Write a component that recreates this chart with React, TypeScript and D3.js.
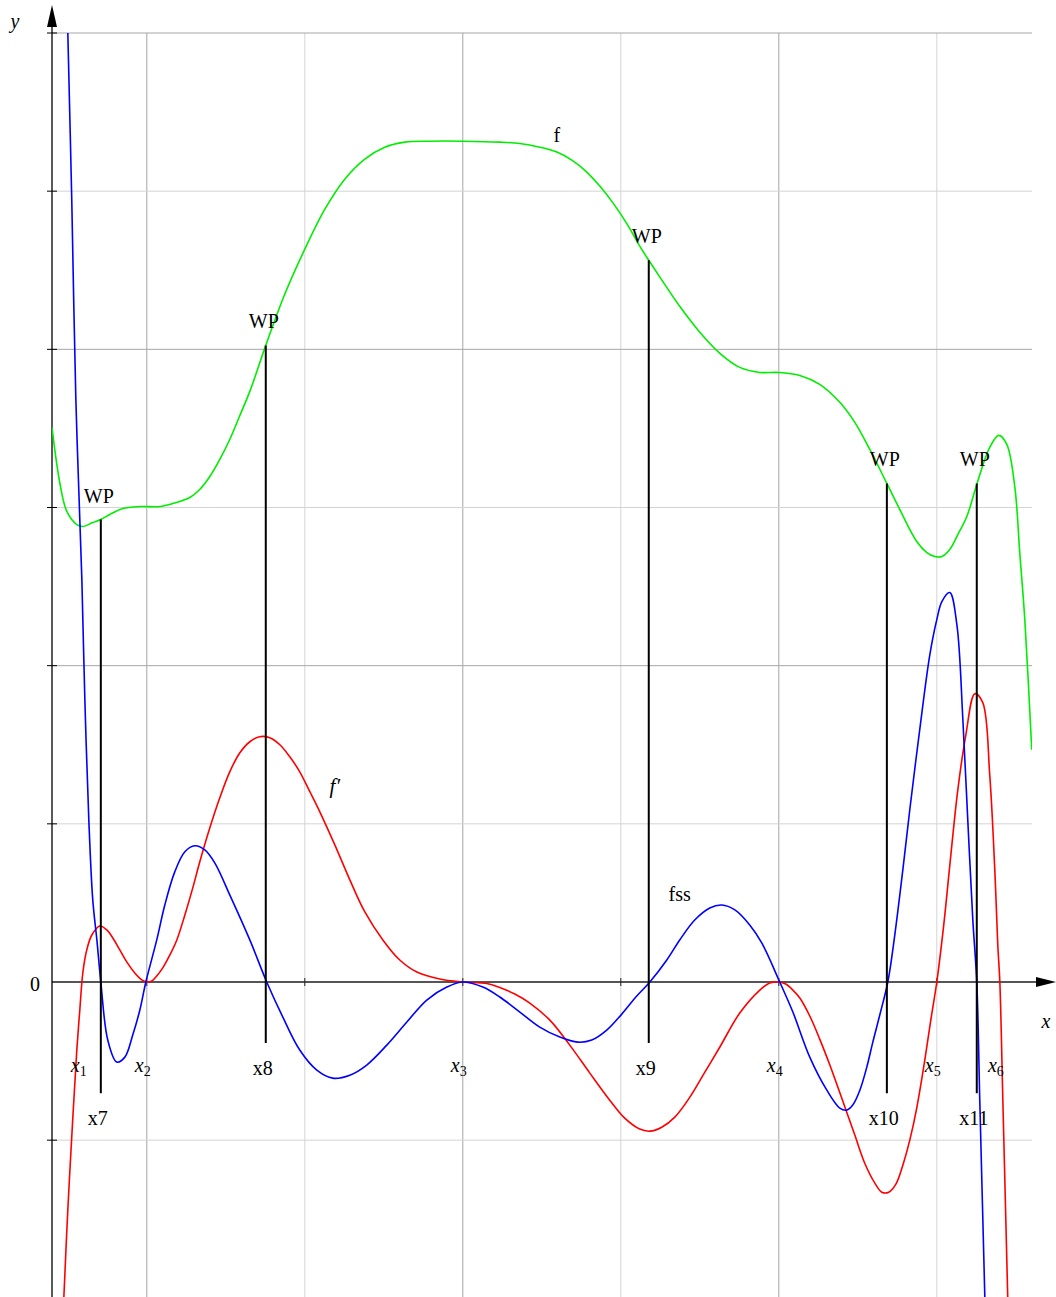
import React from "react";
import * as d3 from "d3";

const WIDTH = 1056;
const HEIGHT = 1297;
const LEFT = 52;
const RIGHT = 1032;
const TOP = 33;
const ZERO_Y = 982;
const FONT = "'Liberation Serif', 'Times New Roman', serif";
const FS = 20;

// one grid cell = 1 unit
const xGrid = [1, 2, 3, 4, 5, 6];
const yGrid = [-1, 1, 2, 3, 4, 5, 6];

// f (green)
const fPoints: [number, number][] = [
  [0.4, 3.506], [0.449, 3.158], [0.494, 2.975], [0.557, 2.892], [0.595, 2.88],
  [0.658, 2.905], [0.709, 2.924], [0.766, 2.956], [0.848, 2.994], [0.956, 3.006],
  [1.082, 3.006], [1.165, 3.025], [1.272, 3.063], [1.335, 3.114], [1.399, 3.196],
  [1.462, 3.304], [1.525, 3.43], [1.589, 3.582], [1.652, 3.734], [1.753, 4.025],
  [1.873, 4.348], [2.0, 4.633], [2.127, 4.886], [2.253, 5.076], [2.38, 5.203],
  [2.506, 5.278], [2.633, 5.31], [2.791, 5.316], [3.0, 5.316], [3.234, 5.31],
  [3.361, 5.301], [3.487, 5.278], [3.595, 5.247], [3.69, 5.196], [3.778, 5.127],
  [3.867, 5.032], [3.956, 4.918], [4.044, 4.785], [4.12, 4.652], [4.177, 4.563],
  [4.278, 4.411], [4.373, 4.272], [4.5, 4.108], [4.627, 3.975], [4.753, 3.886],
  [4.88, 3.854], [5.0, 3.854], [5.133, 3.835], [5.259, 3.778], [5.386, 3.665],
  [5.481, 3.538], [5.576, 3.367], [5.684, 3.152], [5.766, 2.987], [5.873, 2.785],
  [5.937, 2.715], [5.987, 2.69], [6.032, 2.69], [6.082, 2.734], [6.133, 2.829],
  [6.19, 2.943], [6.253, 3.146], [6.335, 3.38], [6.392, 3.456], [6.443, 3.399],
  [6.494, 3.127], [6.525, 2.715], [6.557, 2.291], [6.601, 1.468],
];

// f' (red)
const fsPoints: [number, number][] = [
  [0.475, -1.994], [0.5, -1.443], [0.532, -0.854], [0.557, -0.43], [0.576, -0.177],
  [0.595, 0.057], [0.62, 0.203], [0.652, 0.297], [0.703, 0.354], [0.747, 0.329],
  [0.785, 0.278], [0.829, 0.203], [0.873, 0.127], [0.924, 0.057], [0.968, 0.013],
  [1.0, 0], [1.032, 0.006], [1.063, 0.038], [1.101, 0.089], [1.146, 0.171],
  [1.19, 0.266], [1.241, 0.424], [1.291, 0.595], [1.335, 0.759], [1.399, 0.975],
  [1.462, 1.165], [1.525, 1.329], [1.589, 1.449], [1.652, 1.519], [1.715, 1.551],
  [1.778, 1.544], [1.842, 1.5], [1.905, 1.424], [1.968, 1.329], [2.032, 1.203],
  [2.095, 1.076], [2.19, 0.867], [2.285, 0.646], [2.38, 0.443], [2.494, 0.266],
  [2.601, 0.139], [2.709, 0.063], [2.854, 0.019], [3.0, 0], [3.152, -0.01],
  [3.234, -0.035], [3.329, -0.076], [3.424, -0.133], [3.551, -0.241], [3.677, -0.399],
  [3.804, -0.576], [3.93, -0.747], [4.025, -0.861], [4.12, -0.93], [4.184, -0.943],
  [4.259, -0.918], [4.342, -0.854], [4.437, -0.728], [4.532, -0.57], [4.627, -0.411],
  [4.753, -0.196], [4.88, -0.051], [4.943, -0.006], [5.0, 0], [5.044, -0.013],
  [5.089, -0.051], [5.133, -0.101], [5.196, -0.215], [5.259, -0.361], [5.323, -0.525],
  [5.405, -0.753], [5.481, -0.968], [5.544, -1.146], [5.608, -1.272], [5.652, -1.329],
  [5.696, -1.329], [5.741, -1.278], [5.785, -1.158], [5.829, -1.0], [5.873, -0.797],
  [5.924, -0.494], [5.962, -0.241], [6.0, 0], [6.044, 0.361], [6.089, 0.804],
  [6.133, 1.215], [6.184, 1.563], [6.241, 1.823], [6.291, 1.766], [6.335, 1.31],
  [6.367, 0.709], [6.386, 0.234], [6.399, 0], [6.418, -0.747], [6.449, -1.994],
];

// fss (blue)
const fssPoints: [number, number][] = [
  [0.5, 6.006], [0.525, 4.949], [0.551, 3.684], [0.589, 2.544], [0.608, 1.785],
  [0.633, 1.025], [0.658, 0.519], [0.684, 0.266], [0.709, 0], [0.753, -0.367],
  [0.81, -0.506], [0.861, -0.475], [0.911, -0.335], [0.956, -0.177], [0.994, 0],
  [1.063, 0.266], [1.114, 0.487], [1.177, 0.696], [1.241, 0.823], [1.304, 0.861],
  [1.367, 0.835], [1.43, 0.753], [1.525, 0.551], [1.652, 0.266], [1.759, 0],
  [1.861, -0.222], [1.968, -0.43], [2.076, -0.557], [2.177, -0.608], [2.285, -0.589],
  [2.392, -0.525], [2.519, -0.399], [2.646, -0.253], [2.772, -0.114], [2.899, -0.032],
  [3.0, 0], [3.127, -0.032], [3.234, -0.095], [3.361, -0.19], [3.487, -0.285],
  [3.614, -0.348], [3.728, -0.38], [3.816, -0.367], [3.911, -0.304], [4.006, -0.203],
  [4.101, -0.089], [4.184, 0], [4.291, 0.139], [4.373, 0.266], [4.468, 0.392],
  [4.563, 0.468], [4.639, 0.487], [4.722, 0.456], [4.816, 0.361], [4.892, 0.247],
  [5.006, 0], [5.089, -0.19], [5.196, -0.475], [5.304, -0.684], [5.386, -0.797],
  [5.43, -0.81], [5.468, -0.778], [5.513, -0.684], [5.557, -0.538], [5.595, -0.38],
  [5.639, -0.209], [5.69, 0], [5.734, 0.297], [5.785, 0.709], [5.829, 1.089],
  [5.892, 1.595], [5.956, 2.07], [6.0, 2.291], [6.032, 2.405], [6.082, 2.462],
  [6.127, 2.259], [6.165, 1.658], [6.196, 1.025], [6.228, 0.392], [6.253, 0],
  [6.272, -0.747], [6.304, -1.994],
];

// inflection points: x, f(x), lower end of the marker
const wpNames = ["x7", "x8", "x9", "x10", "x11"];
const wpX = [0.709, 1.753, 4.177, 5.684, 6.253];
const wpTop = [2.924, 4.025, 4.563, 3.152, 3.152];
const wpBottom = [-0.703, -0.386, -0.386, -0.703, -0.703];

// roots of f'
const rootSubs = ["1", "2", "3", "4", "5", "6"];
const rootX = [0.595, 1.0, 3.0, 5.0, 6.0, 6.399];

export default function App() {
  const x = d3.scaleLinear().domain([0.4, 6.6]).range([LEFT, LEFT + 6.2 * 158]);
  const y = d3.scaleLinear().domain([0, 6]).range([ZERO_Y, TOP]);

  const line = d3
    .line<[number, number]>()
    .x((d) => x(d[0]))
    .y((d) => y(d[1]))
    .curve(d3.curveCatmullRom.alpha(0.5));

  return (
    <svg
      width={WIDTH}
      height={HEIGHT}
      style={{ position: "absolute", left: 0, top: 0, background: "#fff" }}
      fontFamily={FONT}
    >
      <defs>
        <clipPath id="plot">
          <rect x={LEFT} y={TOP} width={RIGHT - LEFT} height={HEIGHT - TOP} />
        </clipPath>
      </defs>

      {/* grid */}
      {xGrid.map((v) => (
        <line
          key={"gx" + v}
          x1={x(v)}
          x2={x(v)}
          y1={TOP}
          y2={HEIGHT}
          stroke={v % 2 === 1 ? "#a6a6a6" : "#d4d4d4"}
          strokeWidth={1}
        />
      ))}
      {yGrid.map((v) => (
        <line
          key={"gy" + v}
          x1={LEFT}
          x2={RIGHT}
          y1={y(v)}
          y2={y(v)}
          stroke={v % 2 === 0 ? "#a6a6a6" : "#d4d4d4"}
          strokeWidth={1}
        />
      ))}

      {/* x axis */}
      <line x1={LEFT} x2={1040} y1={y(0)} y2={y(0)} stroke="#555" strokeWidth={2} />
      <path d={`M1056,${y(0)} L1036,${y(0) - 5} L1036,${y(0) + 5} Z`} fill="#000" />
      {xGrid.map((v) => (
        <line key={"tx" + v} x1={x(v)} x2={x(v)} y1={y(0) - 4} y2={y(0) + 4} stroke="#222" strokeWidth={1} />
      ))}

      {/* y axis */}
      <line x1={LEFT} x2={LEFT} y1={HEIGHT} y2={20} stroke="#000" strokeWidth={1.3} />
      <path d={`M${LEFT},5 L${LEFT - 5},27 L${LEFT + 5},27 Z`} fill="#000" />
      {yGrid.map((v) => (
        <line key={"ty" + v} x1={LEFT - 5} x2={LEFT + 5} y1={y(v)} y2={y(v)} stroke="#000" strokeWidth={1} />
      ))}

      <text x={15} y={28} fontSize={FS} fontStyle="italic" textAnchor="middle">y</text>
      <text x={1046} y={1028} fontSize={FS} fontStyle="italic" textAnchor="middle">x</text>
      <text x={35} y={y(0) + 9} fontSize={FS} textAnchor="middle">0</text>

      {/* curves */}
      <g clipPath="url(#plot)" fill="none" strokeWidth={1.6}>
        <path d={line(fPoints) || ""} stroke="#00ee00" />
        <path d={line(fsPoints) || ""} stroke="#ff0000" />
        <path d={line(fssPoints) || ""} stroke="#0000ff" />
      </g>

      {/* inflection markers */}
      {wpX.map((v, i) => (
        <g key={"wp" + i}>
          <line x1={x(v)} x2={x(v)} y1={y(wpTop[i])} y2={y(wpBottom[i])} stroke="#000" strokeWidth={2} />
          <text x={x(v) - 2} y={y(wpTop[i]) - 17} fontSize={FS} textAnchor="middle">WP</text>
          <text x={x(v) - 3} y={y(wpBottom[i]) + 32} fontSize={FS} textAnchor="middle">
            {wpNames[i]}
          </text>
        </g>
      ))}

      {/* root labels */}
      {rootX.map((v, i) => (
        <text key={"r" + i} x={x(v) - 4} y={y(0) + 90} fontSize={FS} textAnchor="middle">
          <tspan fontStyle="italic">x</tspan>
          <tspan fontSize={14} dy={4}>{rootSubs[i]}</tspan>
        </text>
      ))}

      {/* curve names */}
      <text x={x(3.595)} y={y(5.31)} fontSize={FS} textAnchor="middle">f</text>
      <text x={x(2.19)} y={y(1.196)} fontSize={21} fontStyle="italic" textAnchor="middle">f′</text>
      <text x={x(4.373)} y={y(0.513)} fontSize={FS} textAnchor="middle">fss</text>
    </svg>
  );
}
